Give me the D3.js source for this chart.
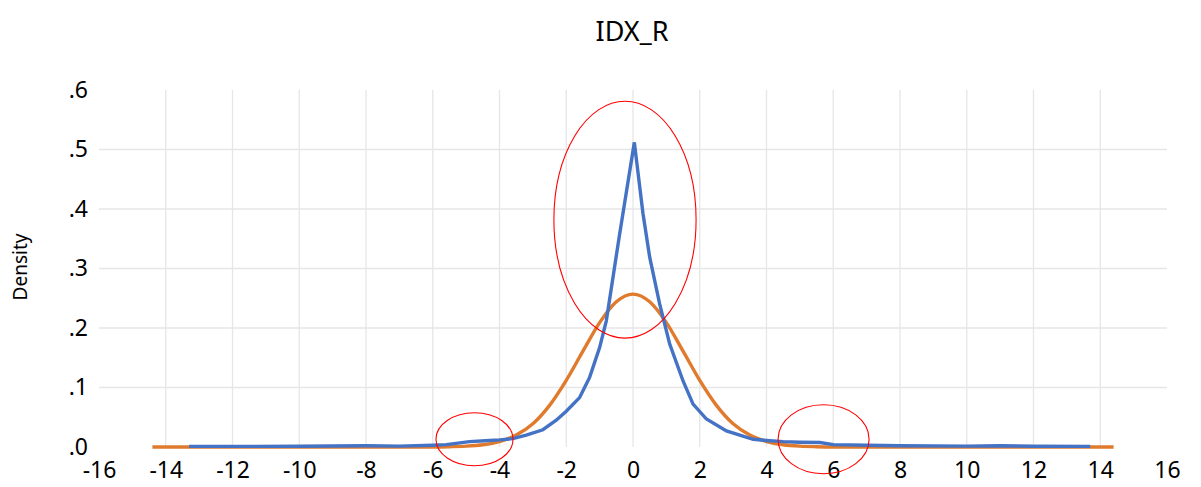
<!DOCTYPE html>
<html>
<head>
<meta charset="utf-8">
<script src="https://cdn.jsdelivr.net/npm/d3@7"></script>
<style>
	body { margin: 0; background: #fff; }
	svg { display: block; }
	text { font-family: "Noto Sans", "Open Sans", sans-serif; fill: #000; }
</style>
</head>
<body>
<div id="chart"></div>
<script>
"use strict";

// chart title + axis text
const chartTitle = "IDX_R";
const yLabel = "Density";
const xTicks = [-16, -14, -12, -10, -8, -6, -4, -2, 0, 2, 4, 6, 8, 10, 12, 14, 16];
const yTicks = [0, 0.1, 0.2, 0.3, 0.4, 0.5, 0.6];

const blueX = [-13.3, -12, -10, -8, -7, -6, -5.6, -5.3, -4.9, -4.3, -4, -3.6, -3.2, -2.7, -2.3, -2.0, -1.6, -1.3, -1.0, -0.8, -0.6, -0.4, 0.04, 0.3, 0.5, 0.8, 1.1, 1.5, 1.8, 2.2, 2.8, 3.6, 4, 4.5, 5, 5.6, 6, 7, 8, 10, 11, 12, 13.7];
const blueY = [0.001, 0.001, 0.0012, 0.002, 0.0015, 0.003, 0.004, 0.006, 0.009, 0.011, 0.012, 0.014, 0.02, 0.029, 0.045, 0.06, 0.083, 0.117, 0.167, 0.212, 0.285, 0.358, 0.512, 0.392, 0.319, 0.24, 0.173, 0.111, 0.072, 0.047, 0.027, 0.013, 0.011, 0.009, 0.008, 0.0075, 0.004, 0.003, 0.002, 0.0015, 0.002, 0.0012, 0.001];

// normal curve (orange)
const orangeX = [-14.4, -8, -6, -5.5, -5, -4.5, -4, -3.5, -3, -2.5, -2, -1.5, -1, -0.5, 0, 0.5, 1, 1.5, 2, 2.5, 3, 3.5, 4, 4.5, 5, 5.5, 6, 8, 14.4];
const orangeY = [0, 0, 0.0001, 0.0005, 0.0014, 0.0038, 0.0092, 0.02, 0.039, 0.07, 0.112, 0.161, 0.209, 0.244, 0.257, 0.244, 0.209, 0.161, 0.112, 0.07, 0.039, 0.02, 0.0092, 0.0038, 0.0014, 0.0005, 0.0001, 0, 0];

// red annotation ellipses: centre x, centre y, radius x, radius y (data units)
const ringCx = [-0.24, -4.75, 5.71];
const ringCy = [0.382, 0.013, 0.013];
const ringRx = [2.13, 1.154, 1.364];
const ringRy = [0.199, 0.0445, 0.058];

const W = 1201, H = 487;
const svg = d3.select("#chart").append("svg")
	.attr("width", W)
	.attr("height", H);

const x = d3.scaleLinear().domain([-16, 16]).range([99, 1167]);
const y = d3.scaleLinear().domain([0, 0.6]).range([447, 90]);

// gridlines
svg.append("g")
	.selectAll("line")
	.data(yTicks.filter((d) => d > 0 && d < 0.6))
	.enter()
	.append("line")
	.attr("x1", x(-16))
	.attr("x2", x(16))
	.attr("y1", (d) => y(d))
	.attr("y2", (d) => y(d))
	.attr("stroke", "#e6e6e6")
	.attr("stroke-width", 1.3);

svg.append("g")
	.selectAll("line")
	.data(xTicks.filter((d) => Math.abs(d) < 16))
	.enter()
	.append("line")
	.attr("x1", (d) => x(d))
	.attr("x2", (d) => x(d))
	.attr("y1", y(0.6))
	.attr("y2", y(0))
	.attr("stroke", "#e6e6e6")
	.attr("stroke-width", 1.3);

// axes (labels only, no domain or tick marks)
const xAxis = svg.append("g")
	.attr("transform", `translate(0,${y(0)})`)
	.call(d3.axisBottom(x).tickValues(xTicks).tickFormat((d) => String(d)).tickSize(0).tickPadding(15));
xAxis.select(".domain").remove();
xAxis.selectAll("text")
	.attr("font-size", "23px")
	.attr("font-family", null)
	.attr("fill", "#000");

const fmtY = (d) => d3.format(".1f")(d).replace(/^0/, "");
const yAxis = svg.append("g")
	.attr("transform", `translate(${x(-16)},0)`)
	.call(d3.axisLeft(y).tickValues(yTicks).tickFormat(fmtY).tickSize(0).tickPadding(11));
yAxis.select(".domain").remove();
yAxis.selectAll("text")
	.attr("font-size", "23px")
	.attr("font-family", null)
	.attr("fill", "#000");

// title
svg.append("text")
	.attr("x", 632)
	.attr("y", 41)
	.attr("text-anchor", "middle")
	.attr("font-size", "27px")
	.text(chartTitle);

// y label
svg.append("text")
	.attr("transform", "translate(27,267) rotate(-90)")
	.attr("text-anchor", "middle")
	.attr("font-size", "19px")
	.text(yLabel);

// series
const line = d3.line().x((d) => x(d[0])).y((d) => y(d[1]));

svg.append("path")
	.datum(d3.zip(orangeX, orangeY))
	.attr("fill", "none")
	.attr("stroke", "#E07B2E")
	.attr("stroke-width", 3.4)
	.attr("d", line.curve(d3.curveMonotoneX));

svg.append("path")
	.datum(d3.zip(blueX, blueY))
	.attr("fill", "none")
	.attr("stroke", "#4472C4")
	.attr("stroke-width", 3.4)
	.attr("stroke-linejoin", "miter")
	.attr("d", line.curve(d3.curveLinear));

// annotation rings
svg.append("g")
	.selectAll("ellipse")
	.data(d3.range(ringCx.length))
	.enter()
	.append("ellipse")
	.attr("cx", (i) => x(ringCx[i]))
	.attr("cy", (i) => y(ringCy[i]))
	.attr("rx", (i) => x(ringRx[i]) - x(0))
	.attr("ry", (i) => y(0) - y(ringRy[i]))
	.attr("fill", "none")
	.attr("stroke", "#FF0000")
	.attr("stroke-width", 1.1);
</script>
</body>
</html>
